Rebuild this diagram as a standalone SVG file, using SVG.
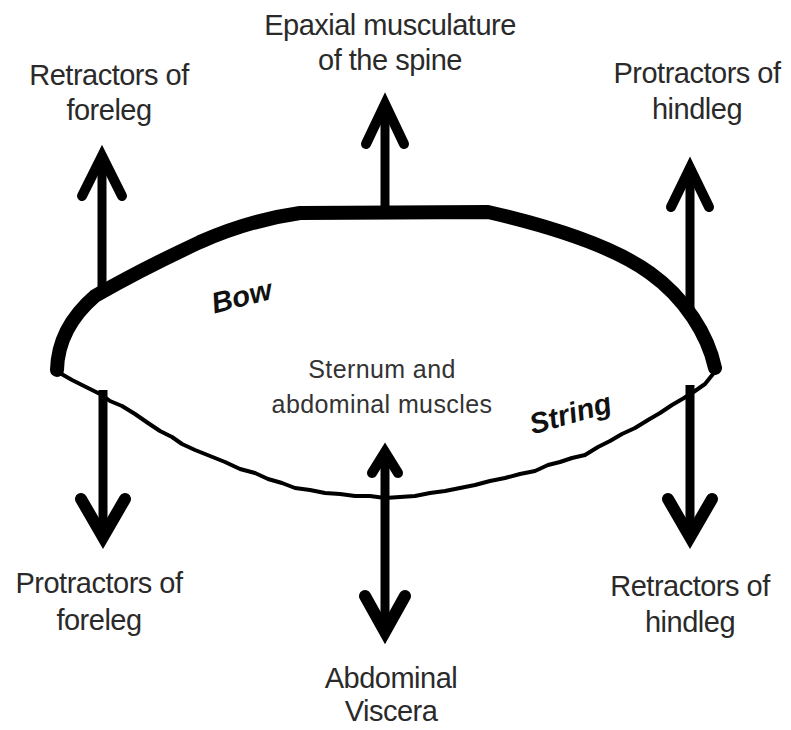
<svg xmlns="http://www.w3.org/2000/svg" width="791" height="730" viewBox="0 0 791 730">
<style>
.lbl{font-family:"Liberation Sans",Arial,sans-serif;font-size:29px;fill:#2a2a2a;text-anchor:middle;letter-spacing:-0.5px}
.mid{font-family:"Liberation Sans",Arial,sans-serif;font-size:25px;fill:#333;text-anchor:middle;letter-spacing:0.4px}
.it{font-family:"Liberation Sans",Arial,sans-serif;font-size:29px;font-weight:bold;font-style:italic;fill:#111;text-anchor:middle}
.shaft{stroke:#000;fill:none;stroke-width:9}
.head{stroke:#000;fill:none;stroke-width:10;stroke-linecap:round;stroke-linejoin:miter;stroke-miterlimit:6}
.headb{stroke:#000;fill:none;stroke-width:12;stroke-linecap:round;stroke-linejoin:miter;stroke-miterlimit:6}
</style>
<rect width="791" height="730" fill="#fff"/>
<g id="body">
<path id="bow" d="M57,370 Q58,328 95,296 Q140,270 200,242 Q250,220 300,213 L488,212 C540,224 610,244 650,273 C685,298 708,335 715,368" fill="none" stroke="#000" stroke-width="14" stroke-linecap="round" stroke-linejoin="round"/>
<polyline id="string" points="58,372 72,380 88,388 102,395 110,401 122,406 135,414 148,423 160,431 172,437 182,444 195,450 210,456 225,462 240,469 255,473 268,479 282,483 295,488 310,490 325,493 340,494 355,496 370,496 385,498 400,497 415,496 430,493 445,491 460,488 475,485 490,481 505,478 520,474 535,471 548,465 560,462 572,458 585,455 598,447 610,441 622,434 635,428 648,420 660,413 672,405 684,398 695,391 705,384 713,374" fill="none" stroke="#000" stroke-width="4" stroke-linejoin="round" stroke-linecap="round"/>
</g>
<g id="connectors">
<g id="arrow-retractors-foreleg">
<line class="shaft" x1="102" y1="156" x2="102" y2="292" stroke-width="8"/>
<polyline class="head" points="82,196 102,156 122,196"/>
</g>
<g id="arrow-epaxial">
<line class="shaft" x1="385" y1="104" x2="385" y2="212"/>
<polyline class="head" points="366,144 385,104 404,144"/>
</g>
<g id="arrow-protractors-hindleg">
<line class="shaft" x1="690" y1="168" x2="690" y2="318" stroke-width="8"/>
<polyline class="head" points="671,207 690,168 709,207"/>
</g>
<g id="arrow-protractors-foreleg">
<line class="shaft" x1="103" y1="390" x2="103" y2="536"/>
<polyline class="headb" points="81,499 103,537 125,499"/>
</g>
<g id="arrow-retractors-hindleg">
<line class="shaft" x1="690" y1="385" x2="690" y2="536"/>
<polyline class="headb" points="668,499 690,537 712,499"/>
</g>
<g id="arrow-abdominal">
<line class="shaft" x1="385" y1="452" x2="385" y2="630"/>
<polyline class="head" points="372,473 385,452 398,473" stroke-width="9"/>
<polyline class="headb" points="365,596 385,632 405,596"/>
</g>
</g>
<g id="label-epaxial"><text class="lbl" x="390" y="35">Epaxial musculature</text><text class="lbl" x="390" y="70">of the spine</text></g>
<g id="label-retractors-foreleg"><text class="lbl" x="109" y="85">Retractors of</text><text class="lbl" x="109" y="120">foreleg</text></g>
<g id="label-protractors-hindleg"><text class="lbl" x="697" y="83">Protractors of</text><text class="lbl" x="697" y="119">hindleg</text></g>
<g id="label-protractors-foreleg"><text class="lbl" x="99" y="593">Protractors of</text><text class="lbl" x="99" y="630">foreleg</text></g>
<g id="label-retractors-hindleg"><text class="lbl" x="690" y="596">Retractors of</text><text class="lbl" x="690" y="632">hindleg</text></g>
<g id="label-abdominal-viscera"><text class="lbl" x="391" y="688">Abdominal</text><text class="lbl" x="391" y="721">Viscera</text></g>
<g id="label-sternum"><text class="mid" x="382" y="378">Sternum and</text><text class="mid" x="382" y="413">abdominal muscles</text></g>
<text class="it" x="0" y="0" transform="translate(244,306) rotate(-14)">Bow</text>
<text class="it" x="0" y="0" transform="translate(573,423) rotate(-16)">String</text>
</svg>
